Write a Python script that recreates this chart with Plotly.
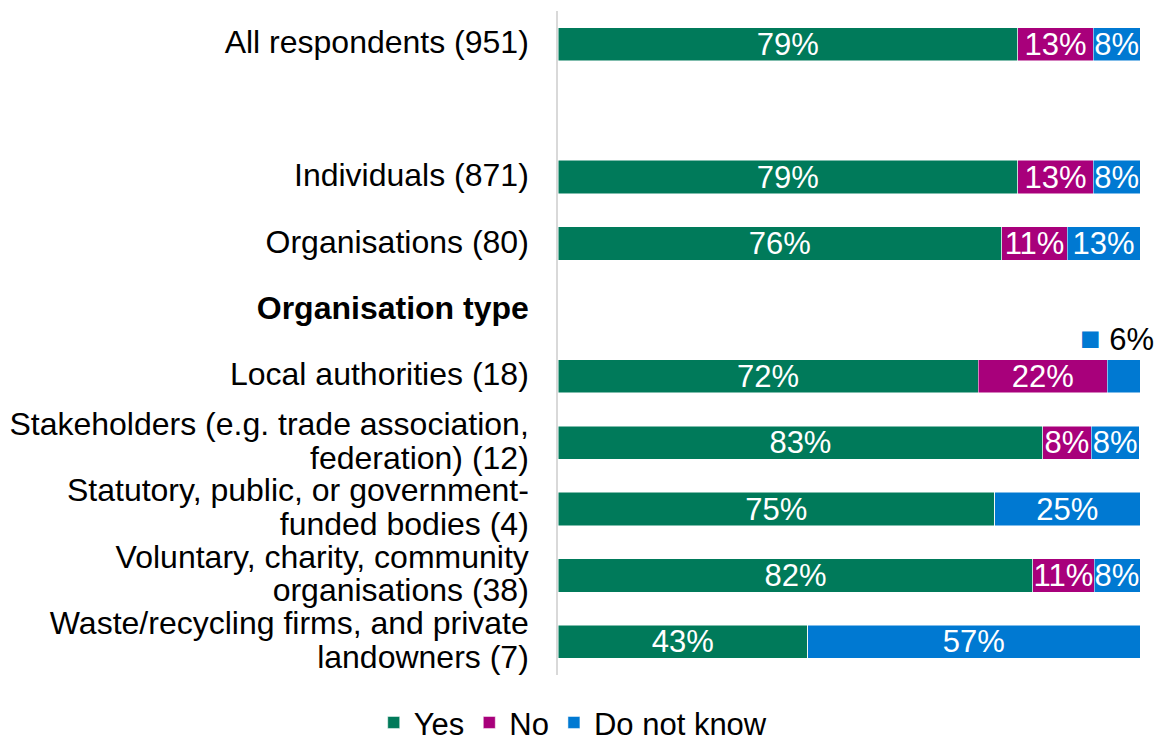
import plotly.graph_objects as go

categories = [
    "All respondents (951)",
    " ",
    "Individuals (871)",
    "Organisations (80)",
    "<b>Organisation type</b>",
    "Local authorities (18)",
    "Stakeholders (e.g. trade association,<br>federation) (12)",
    "Statutory, public, or government-<br>funded bodies (4)",
    "Voluntary, charity, community<br>organisations (38)",
    "Waste/recycling firms, and private<br>landowners (7)",
]
yes_vals = [79, None, 79, 76.25, None, 72.2, 83.3, 75, 81.6, 42.9]
no_vals = [13, None, 13, 11.25, None, 22.2, 8.3, 0, 10.5, 0]
dk_vals = [8, None, 8, 12.5, None, 5.6, 8.3, 25, 7.9, 57.1]
yes_text = ["79%", "", "79%", "76%", "", "72%", "83%", "75%", "82%", "43%"]
no_text = ["13%", "", "13%", "11%", "", "22%", "8%", "", "11%", ""]
dk_text = ["8%", "", "8%", "13%", "", "", "8%", "25%", "8%", "57%"]

GREEN = "#007A5A"
MAGENTA = "#A8007B"
BLUE = "#0079D2"
FONT = "Liberation Sans, Arial, sans-serif"
FS = 31
LABEL_FS = 32


def big(label):
    # keep the glyphs large while the tick font (and so the line spacing) stays smaller
    return "<br>".join(
        f"<span style='font-size:{LABEL_FS}px'>{part}</span>" for part in label.split("<br>")
    )


ticktext = [big(c) for c in categories]

fig = go.Figure()
for name, vals, txt, col in [
    ("Yes", yes_vals, yes_text, GREEN),
    ("No", no_vals, no_text, MAGENTA),
    ("Do not know", dk_vals, dk_text, BLUE),
]:
    fig.add_trace(go.Bar(
        y=categories, x=vals, name=name, orientation="h",
        marker=dict(color=col, line=dict(color="white", width=0.5)),
        text=txt, textposition="inside", insidetextanchor="middle",
        textangle=0, constraintext="none",
        textfont=dict(color="white", size=FS, family=FONT),
        hoverinfo="skip",
    ))

fig.add_annotation(
    x=100, y=categories[5], xref="x", yref="y",
    text=f"<span style='color:{BLUE};font-size:34px'>■</span> 6%",
    showarrow=False, xanchor="right", xshift=16, yshift=38,
    font=dict(size=FS, family=FONT, color="black"),
)

fig.update_layout(
    barmode="stack", bargap=0.5,
    width=1158, height=742,
    margin=dict(l=558, r=18, t=11, b=67, autoexpand=False),
    plot_bgcolor="white", paper_bgcolor="white",
    font=dict(family=FONT, size=FS, color="black"),
    legend=dict(orientation="h", x=0.495, xanchor="center", xref="container",
                y=-0.072, yanchor="middle", font=dict(size=FS, family=FONT),
                itemwidth=30, traceorder="normal"),
    showlegend=True,
)
fig.update_xaxes(range=[0, 100], visible=False, fixedrange=True)
fig.update_yaxes(autorange="reversed", showline=True, linecolor="#d9d9d9",
                 linewidth=2, showgrid=False, ticks="outside", ticklen=22,
                 tickcolor="rgba(0,0,0,0)", tickfont=dict(size=26, family=FONT),
                 tickmode="array", tickvals=categories, ticktext=ticktext)

fig.write_html("out.html")
